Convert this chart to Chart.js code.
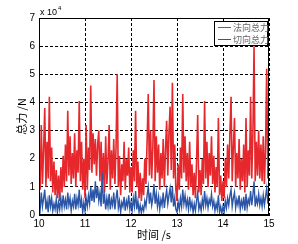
<!DOCTYPE html>
<html>
<head>
<meta charset="utf-8">
<script src="https://cdn.jsdelivr.net/npm/chart.js@4/dist/chart.umd.min.js"></script>
<style>
  html, body { margin: 0; padding: 0; background: #fff; }
  #wrap { width: 298px; height: 244px; }
</style>
</head>
<body>
<div id="wrap"><canvas id="forceChart" width="298" height="244"></canvas></div>
<script>
// time axis: 10 s .. 15 s, one sample every 0.025 s
const tStart = 10;
const tStep = 0.025;

const seriesNames = ['法向总力', '切向总力'];
const yTickLabels = ['0', '1', '2', '3', '4', '5', '6', '7'];
const xTickLabels = ['10', '11', '12', '13', '14', '15'];

// values in units of 10^4 N
const normalForce = [
  1.6, 0.9, 3.2, 1.1, 2.3, 3.8, 1.0, 2.6, 1.3, 4.2, 1.2, 2.4, 0.8, 1.9, 0.7, 1.6, 0.6, 1.4, 0.5, 1.7,
  0.8, 2.1, 1.0, 2.5, 1.2, 3.7, 1.4, 2.8, 1.1, 2.2, 1.3, 2.9, 1.0, 2.3, 1.5, 4.05, 1.2, 2.6, 0.9, 2.0,
  0.6, 3.2, 0.9, 2.4, 1.6, 4.6, 1.5, 2.9, 1.8, 2.7, 1.4, 2.5, 3.0, 1.2, 2.6, 1.0, 2.2, 0.8, 2.8, 1.1,
  1.9, 3.2, 0.9, 2.3, 1.3, 2.7, 1.1, 2.4, 5.0, 1.0, 2.1, 0.7, 1.8, 1.2, 2.6, 0.9, 2.0, 1.4, 2.4, 0.8,
  1.7, 0.8, 2.3, 1.2, 3.7, 1.0, 1.9, 0.6, 1.5, 0.5, 1.3, 0.7, 2.0, 1.1, 2.6, 4.3, 1.4, 3.0, 1.3, 2.4,
  4.8, 1.2, 2.8, 1.5, 2.5, 0.9, 2.2, 1.3, 2.7, 1.0, 2.3, 3.35, 1.4, 2.9, 3.85, 1.6, 4.7, 1.3, 2.5, 0.9,
  0.5, 1.8, 0.9, 2.4, 1.3, 4.3, 1.5, 2.8, 1.2, 2.2, 0.9, 2.6, 1.0, 1.8, 0.7, 1.5, 0.6, 1.9, 3.55, 0.8,
  1.6, 0.7, 2.0, 1.1, 4.05, 1.3, 2.6, 1.0, 2.2, 1.4, 2.8, 1.1, 2.1, 0.8, 1.7, 1.0, 3.45, 0.7, 1.4, 0.5,
  1.2, 0.6, 2.0, 1.0, 2.5, 1.3, 2.9, 4.2, 1.2, 2.4, 3.45, 1.0, 2.2, 1.3, 2.7, 0.9, 2.0, 1.2, 2.5, 0.8,
  3.45, 1.0, 2.3, 1.4, 4.2, 1.3, 2.9, 6.0, 1.2, 2.6, 1.4, 3.0, 1.3, 2.5, 1.2, 2.8, 1.1, 2.4, 5.2, 1.3,
  2.6
];

const tangentForce = [
  0.5, 0.2, 0.8, 0.3, 0.6, 0.9, 0.2, 0.5, 0.1, 0.7, 0.3, 0.6, 0.15, 0.4, 0.2, 0.55, 0.1, 0.45, 0.2, 0.6,
  0.25, 0.7, 0.3, 0.55, 0.2, 0.8, 0.35, 0.6, 0.15, 0.5, 0.3, 0.75, 0.2, 0.6, 0.35, 0.9, 0.25, 0.55, 0.1, 0.45,
  0.15, 0.6, 0.3, 0.7, 0.4, 1.0, 0.5, 0.9, 0.45, 1.2, 0.6, 1.0, 0.5, 0.8, 0.3, 1.5, 0.4, 0.7, 0.2, 0.6,
  0.3, 0.75, 0.2, 0.55, 0.35, 0.8, 0.2, 0.6, 0.9, 0.25, 0.5, 0.1, 0.45, 0.3, 0.65, 0.15, 0.5, 0.3, 0.7, 0.2,
  0.45, 0.15, 0.6, 0.3, 0.85, 0.2, 0.5, 0.1, 0.35, 0.08, 0.3, 0.15, 0.5, 0.3, 0.7, 1.0, 0.4, 0.8, 0.35, 0.6,
  1.1, 0.4, 0.75, 0.3, 0.65, 0.2, 0.55, 0.35, 0.8, 0.25, 0.6, 0.9, 0.4, 0.7, 0.95, 0.45, 1.0, 0.3, 0.6, 0.2,
  0.1, 0.45, 0.2, 0.6, 0.3, 0.9, 0.4, 0.7, 0.3, 0.55, 0.2, 0.65, 0.25, 0.45, 0.1, 0.4, 0.15, 0.5, 0.8, 0.2,
  0.4, 0.15, 0.55, 0.3, 0.85, 0.35, 0.6, 0.25, 0.55, 0.4, 0.75, 0.3, 0.5, 0.15, 0.4, 0.2, 0.7, 0.1, 0.3, 0.05,
  0.3, 0.1, 0.5, 0.25, 0.6, 0.35, 0.7, 0.9, 0.3, 0.6, 0.8, 0.25, 0.55, 0.35, 0.7, 0.2, 0.5, 0.3, 0.65, 0.15,
  0.75, 0.25, 0.55, 0.4, 0.85, 0.35, 0.7, 1.2, 0.3, 0.6, 0.4, 0.75, 0.35, 0.6, 0.3, 0.7, 0.35, 0.65, 0.95, 0.4,
  0.8
];

const RED = '#e6282c';
const BLUE = '#2b56a8';

const toPoints = (arr) => arr.map((v, i) => ({ x: tStart + i * tStep, y: v }));

// box, exponent, axis titles and legend drawn like a matlab figure
const matlabFrame = {
  id: 'matlabFrame',
  afterDraw(chart) {
    const { ctx, chartArea: a } = chart;
    ctx.save();
    ctx.strokeStyle = '#000';
    ctx.lineWidth = 1;
    ctx.setLineDash([]);
    ctx.strokeRect(a.left + 0.5, a.top + 0.5, a.right - a.left - 1, a.bottom - a.top - 1);

    ctx.fillStyle = '#000';
    ctx.font = '9px "Liberation Sans", Arial, sans-serif';
    ctx.textBaseline = 'alphabetic';
    ctx.textAlign = 'left';
    ctx.fillText('x 10', a.left + 1, a.top - 3);
    ctx.font = '6px "Liberation Sans", Arial, sans-serif';
    ctx.fillText('4', a.left + 19, a.top - 8);

    ctx.font = '11px "Noto Sans CJK SC", sans-serif';
    ctx.textAlign = 'center';
    ctx.textBaseline = 'middle';
    ctx.fillText('时间 /s', (a.left + a.right) / 2, 235);

    ctx.save();
    ctx.translate(22, (a.top + a.bottom) / 2);
    ctx.rotate(-Math.PI / 2);
    ctx.fillText('总力 /N', 0, 0);
    ctx.restore();

    // legend box
    const lx = 214, ly = 21, lw = 53, lh = 24;
    ctx.fillStyle = '#fff';
    ctx.fillRect(lx, ly, lw, lh);
    ctx.strokeStyle = '#000';
    ctx.strokeRect(lx + 0.5, ly + 0.5, lw, lh);
    const colors = [RED, BLUE];
    seriesNames.forEach((name, i) => {
      const y = ly + 6 + i * 12;
      ctx.strokeStyle = colors[i];
      ctx.beginPath();
      ctx.moveTo(lx + 4, y + 0.5);
      ctx.lineTo(lx + 17, y + 0.5);
      ctx.stroke();
      ctx.fillStyle = '#666';
      ctx.font = '9px "Noto Sans CJK SC", sans-serif';
      ctx.textAlign = 'left';
      ctx.textBaseline = 'middle';
      ctx.fillText(name, lx + 19, y + 1);
    });
    ctx.restore();
  }
};

const ctx = document.getElementById('forceChart').getContext('2d');
const forceChart = new Chart(ctx, {
  type: 'line',
  data: {
    datasets: [{
      label: seriesNames[0],
      data: toPoints(normalForce),
      borderColor: RED,
      borderWidth: 1.6,
      pointRadius: 0,
      tension: 0,
      order: 1
    }, {
      label: seriesNames[1],
      data: toPoints(tangentForce),
      borderColor: BLUE,
      borderWidth: 1.4,
      pointRadius: 0,
      tension: 0,
      order: 0
    }]
  },
  options: {
    responsive: false,
    animation: false,
    layout: { padding: { top: 18, right: 29, left: 0, bottom: 0 } },
    plugins: {
      legend: { display: false },
      tooltip: { enabled: false }
    },
    scales: {
      x: {
        type: 'linear',
        min: 10,
        max: 15,
        afterFit: (scale) => { scale.height = 29; },
        afterBuildTicks: (scale) => {
          scale.ticks = xTickLabels.map(v => ({ value: Number(v) }));
        },
        ticks: {
          padding: 3,
          color: '#000',
          font: { family: '"Liberation Sans", Arial, sans-serif', size: 10 },
          maxRotation: 0,
          callback: (v) => String(v)
        },
        grid: { color: '#000', lineWidth: 1, drawTicks: false },
        border: { display: true, color: '#000', dash: [3, 2] }
      },
      y: {
        min: 0,
        max: 7,
        afterFit: (scale) => { scale.width = 39; },
        afterBuildTicks: (scale) => {
          scale.ticks = yTickLabels.map(v => ({ value: Number(v) }));
        },
        ticks: {
          padding: 4,
          color: '#000',
          font: { family: '"Liberation Sans", Arial, sans-serif', size: 10 },
          callback: (v) => String(v)
        },
        grid: { color: '#000', lineWidth: 1, drawTicks: false },
        border: { display: true, color: '#000', dash: [3, 2] }
      }
    }
  },
  plugins: [matlabFrame]
});
</script>
</body>
</html>
